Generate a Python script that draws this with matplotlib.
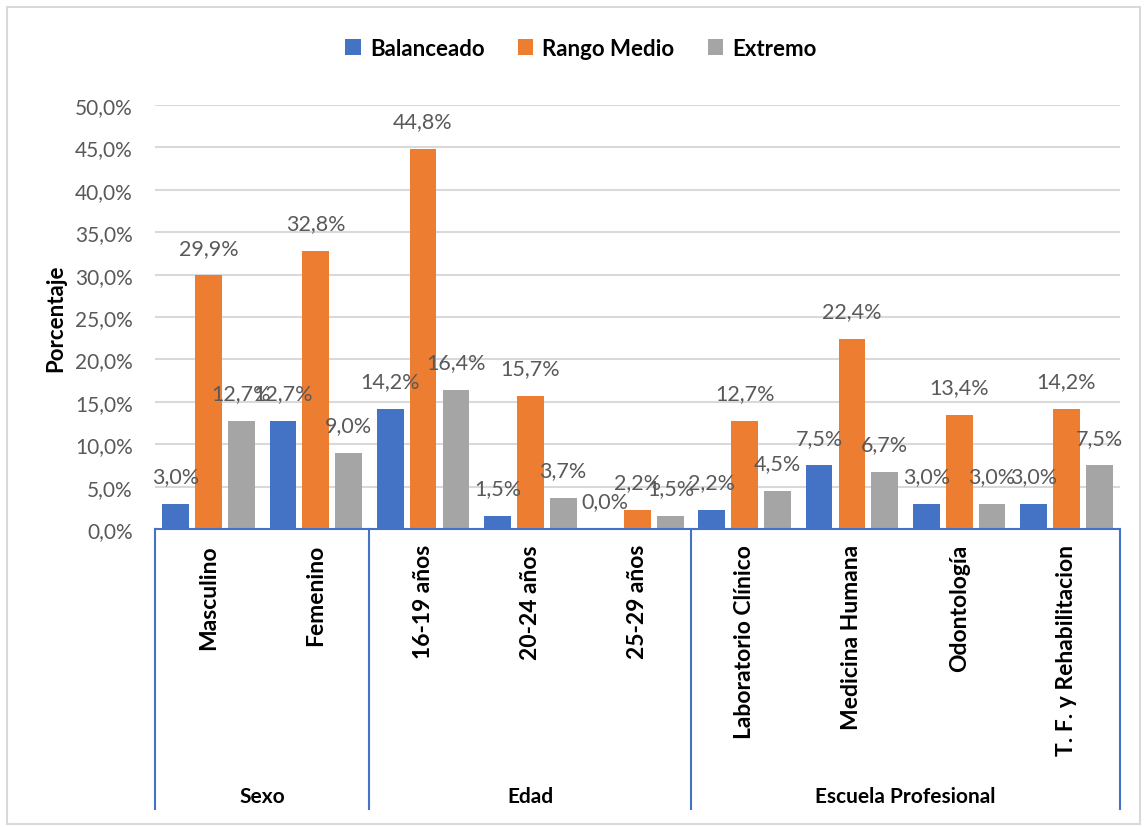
import matplotlib
matplotlib.use('Agg')
import matplotlib.pyplot as plt
from matplotlib.patches import Rectangle
from matplotlib.ticker import FuncFormatter

categories = ['Masculino', 'Femenino', '16-19 años', '20-24 años', '25-29 años',
              'Laboratorio Clínico', 'Medicina Humana', 'Odontología',
              'T. F. y Rehabilitacion']
groups = ['Sexo', 'Edad', 'Escuela Profesional']
group_sizes = [2, 3, 4]

series = ['Balanceado', 'Rango Medio', 'Extremo']
balanceado = [3.0, 12.7, 14.2, 1.5, 0.0, 2.2, 7.5, 3.0, 3.0]
rango_medio = [29.9, 32.8, 44.8, 15.7, 2.2, 12.7, 22.4, 13.4, 14.2]
extremo = [12.7, 9.0, 16.4, 3.7, 1.5, 4.5, 6.7, 3.0, 7.5]
colors = ['#4472C4', '#ED7D31', '#A5A5A5']

plt.rcParams['font.family'] = ['Lato', 'DejaVu Sans']

fig = plt.figure(figsize=(11.44, 8.28), dpi=100)
ax = fig.add_axes([155/1144, (828-530)/828, (1120-155)/1144, 424/828])

# outer chart border
fig.patches.append(Rectangle((7/1144, 3/828), 1133/1144, 817/828, transform=fig.transFigure,
                             fill=False, edgecolor='#D9D9D9', linewidth=1.5))

x = list(range(len(categories)))
step = 0.307
width = 0.25
for j, vals in enumerate([balanceado, rango_medio, extremo]):
    xs = [i + (j - 1) * step for i in x]
    ax.bar(xs, vals, width, color=colors[j], label=series[j], zorder=3)
    for xi, v in zip(xs, vals):
        ax.annotate(f'{v:.1f}%'.replace('.', ','), (xi, v), xytext=(0, 20),
                    textcoords='offset points', ha='center', va='center',
                    fontsize=15.5, color='#595959', zorder=4)

ax.set_xlim(-0.5, 8.5)
ax.set_ylim(0, 50)
ax.set_yticks(range(0, 51, 5))
ax.yaxis.set_major_formatter(FuncFormatter(lambda v, p: f'{v:.1f}%'.replace('.', ',')))
ax.tick_params(axis='y', length=0, pad=16, labelsize=15, labelcolor='#595959')
ax.set_xticks([])
ax.grid(axis='y', color='#D9D9D9', linewidth=1.5, zorder=0)
for s in ['top', 'right', 'left']:
    ax.spines[s].set_visible(False)
ax.spines['bottom'].set_color('#4472C4')
ax.spines['bottom'].set_linewidth(1.5)
ax.spines['bottom'].set_zorder(5)

ax.set_ylabel('Porcentaje', fontsize=16, fontweight='bold')
ax.yaxis.set_label_coords(-89/965, 0.5)

# multi-level category axis
tr = ax.get_xaxis_transform()
low = -(810 - 530) / 424
bounds = [-0.5]
for n in group_sizes:
    bounds.append(bounds[-1] + n)
for b in bounds:
    ax.plot([b, b], [0, low], transform=tr, color='#4472C4', linewidth=1.5, clip_on=False)

for i, c in enumerate(categories):
    ax.text(i, -15/424, c, transform=tr, rotation=90, ha='center', va='top',
            fontsize=16.5, fontweight='bold')
for g, a, b in zip(groups, bounds[:-1], bounds[1:]):
    ax.text((a + b) / 2, -(797 - 530)/424, g, transform=tr, ha='center', va='center',
            fontsize=15, fontweight='bold')

fig.legend(loc='center', bbox_to_anchor=(581/1144, 1 - 49/828), ncol=3, frameon=False,
           prop={'size': 16, 'weight': 'bold'}, handlelength=0.7, handleheight=0.7,
           handletextpad=0.4, columnspacing=1.5)

fig.savefig('out.png', dpi=100)
